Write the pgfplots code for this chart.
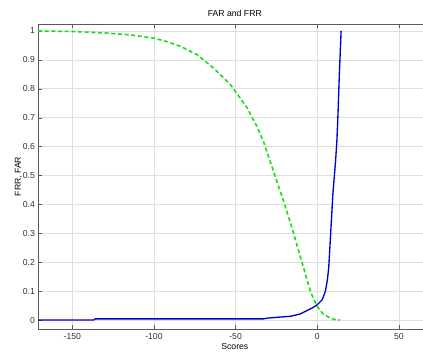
\documentclass[border=0pt]{standalone}
\usepackage{fontspec}
\setmainfont{Liberation Sans}
\usepackage{pgfplots}
\pgfplotsset{compat=1.18}
\begin{document}
\fontsize{6.5}{8}\selectfont
\begin{tikzpicture}
\useasboundingbox (0pt,0pt) rectangle (317.25pt,265.5pt);
\clip (0pt,0pt) rectangle (317.25pt,265.5pt);
\begin{axis}[
  at={(28.5pt,18.75pt)}, anchor=south west,
  scale only axis, width=295.2pt, height=228.75pt,
  xmin=-171, xmax=70, ymin=-0.031, ymax=1.024,
  xtick={-150,-100,-50,0,50},
  ytick={0,0.1,0.2,0.3,0.4,0.5,0.6,0.7,0.8,0.9,1},
  yticklabels={0,0.1,0.2,0.3,0.4,0.5,0.6,0.7,0.8,0.9,1},
  /pgf/number format/assume math mode=true,
  tick align=inside, major tick length=3pt,
  grid=major, major grid style={gray!25, line width=0.4pt},
  axis line style={gray!70!black, line width=0.5pt},
  tick style={gray!70!black},
  ticklabel style={font=\fontsize{6.5}{8}\selectfont, text=black!80},
  xticklabel style={yshift=-1pt},
  title={FAR and FRR}, title style={font=\fontsize{6.5}{8}\selectfont, yshift=-3pt},
  xlabel={Scores}, xlabel style={font=\fontsize{6.5}{8}\selectfont, yshift=2pt},
  ylabel={FRR, FAR}, ylabel style={font=\fontsize{6.5}{8}\selectfont, yshift=-4pt},
]
\addplot[green!85!black!90, line width=1.2pt, dash pattern=on 3pt off 2pt] coordinates {
(-171,1.0) (-150,0.998) (-130,0.993) (-114,0.986) (-100,0.975) (-92,0.963)
(-83.5,0.946) (-73.3,0.917) (-63.2,0.87) (-53,0.813) (-50,0.79) (-43,0.734)
(-37,0.67) (-33,0.618) (-30,0.568) (-27,0.518) (-24,0.467) (-20.6,0.41) (-17.5,0.355) (-14.5,0.30)
(-12,0.25) (-9.4,0.20) (-6.8,0.15) (-4.3,0.10) (-2,0.07) (0.2,0.045) (3.5,0.022) (7.5,0.008) (10.5,0.002) (13.9,0)
};
\addplot[blue!80!black, line width=1pt] coordinates {
(-171,0) (-137,0) (-136,0.004) (-33,0.004) (-30,0.007) (-16.5,0.013)
(-10.4,0.021) (-6.3,0.033) (-3,0.042) (0,0.053) (3,0.07) (5,0.1)
(6.2,0.14) (7,0.18) (8.2,0.3) (9.6,0.44) (11.2,0.55) (12,0.62) (12.6,0.7)
(13.5,0.85) (14.6,1.0)
};
\end{axis}
\end{tikzpicture}
\end{document}
